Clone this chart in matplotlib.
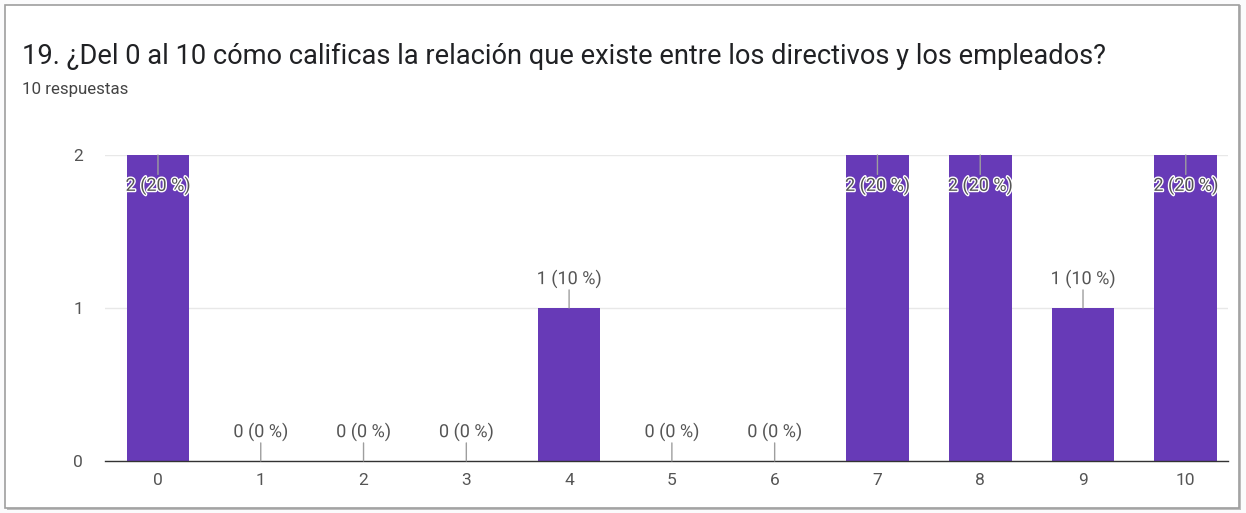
import numpy as np
import matplotlib
matplotlib.use('Agg')
import matplotlib.pyplot as plt
import matplotlib.patheffects as pe
from matplotlib.patches import Rectangle

plt.rcParams['font.family'] = ['Roboto', 'DejaVu Sans']

title = '19. ¿Del 0 al 10 cómo calificas la relación que existe entre los directivos y los empleados?'
subtitle = '10 respuestas'
categories = ['0', '1', '2', '3', '4', '5', '6', '7', '8', '9', '10']
counts = [2, 0, 0, 0, 1, 0, 0, 2, 2, 1, 2]
percents = [20, 0, 0, 0, 10, 0, 0, 20, 20, 10, 20]

bar_color = '#673ab7'
text_color = '#555555'

fig = plt.figure(figsize=(12.46, 5.13), dpi=100)
fig.patch.set_facecolor('#fbfbfc')

# card with shadow
fig.patches.append(Rectangle((0.006, 0.006), 0.990, 0.984, transform=fig.transFigure,
                             facecolor='#bdbdbd', edgecolor='none', zorder=-2))
fig.patches.append(Rectangle((0.004, 0.010), 0.990, 0.980, transform=fig.transFigure,
                             facecolor='white', edgecolor='#9e9e9e', linewidth=1.2, zorder=-1))

fig.text(0.018, 0.889, title, fontsize=19.6, color='#202124', va='center', ha='left')
fig.text(0.018, 0.826, subtitle, fontsize=12.2, color='#444444', va='center', ha='left')

ax = fig.add_axes([0.0843, 0.1014, 0.9012, 0.5965])
ax.set_zorder(2)
ax.set_facecolor('none')
x = np.arange(len(categories))
ax.bar(x, counts, width=0.61, color=bar_color, zorder=2)

ax.set_xlim(-0.515, 10.41)
ax.set_ylim(0, 2)
ax.set_yticks([0, 1, 2])
ax.set_xticks(x)
ax.set_xticklabels(categories)
ax.tick_params(axis='both', length=0, colors='#555555', labelsize=12.5)
ax.tick_params(axis='y', pad=16)
ax.tick_params(axis='x', pad=9)
for s in ['top', 'right', 'left']:
    ax.spines[s].set_visible(False)
ax.spines['bottom'].set_color('#333333')
ax.spines['bottom'].set_linewidth(1.0)
ax.spines['bottom'].set_zorder(3)
ax.yaxis.grid(True, color='#e8e8e8', linewidth=1)
ax.set_axisbelow(True)

halo = [pe.withStroke(linewidth=2, foreground='white')]
for xi, c, p in zip(x, counts, percents):
    label = '%d (%d %%)' % (c, p)
    if c == max(counts):
        ax.annotate('', xy=(xi, c), xytext=(0, -14), textcoords='offset points',
                    arrowprops=dict(arrowstyle='-', color='#9e9e9e', lw=1, shrinkA=0, shrinkB=0),
                    zorder=4)
        ax.annotate(label, xy=(xi, c), xytext=(0, -22), textcoords='offset points',
                    ha='center', va='center', fontsize=13, color=text_color,
                    path_effects=halo, zorder=5)
    else:
        ax.annotate('', xy=(xi, c), xytext=(0, 13), textcoords='offset points',
                    arrowprops=dict(arrowstyle='-', color='#9e9e9e', lw=1, shrinkA=0, shrinkB=0),
                    zorder=4)
        ax.annotate(label, xy=(xi, c), xytext=(0, 21), textcoords='offset points',
                    ha='center', va='center', fontsize=13, color=text_color,
                    path_effects=halo, zorder=5)

plt.savefig('out.png', dpi=100, facecolor=fig.get_facecolor())
